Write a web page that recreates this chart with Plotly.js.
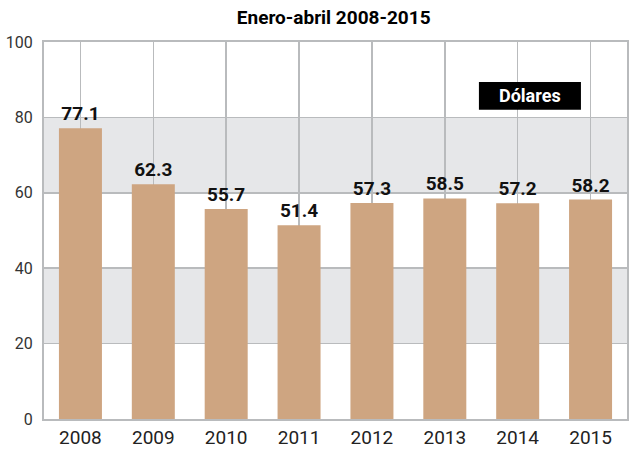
<!DOCTYPE html>
<html><head><meta charset="utf-8">
<script src="https://cdn.plot.ly/plotly-3.0.1.min.js"></script>
<style>html,body{margin:0;padding:0;background:#fff}#chart{width:632px;height:450px}</style>
</head><body><div id="chart"></div>
<script>
const years = ["2008","2009","2010","2011","2012","2013","2014","2015"];
const values = [77.1, 62.3, 55.7, 51.4, 57.3, 58.5, 57.2, 58.2];
const valueLabels = ["77.1","62.3","55.7","51.4","57.3","58.5","57.2","58.2"];
const yTicks = [0, 20, 40, 60, 80, 100];
const bands = [[20, 40], [60, 80]];
const titleText = "Enero-abril 2008-2015";
const unitText = "Dólares";

const grid = "#b9bbbd";
const shapes = bands.map(b => ({type:"rect", xref:"paper", yref:"y", x0:0, x1:1, y0:b[0], y1:b[1],
  fillcolor:"#e6e7e9", line:{width:0}, layer:"below"}));
shapes.push({type:"rect", xref:"paper", yref:"paper", x0:0.746, x1:0.921, y0:0.820, y1:0.894,
  fillcolor:"#000", line:{width:0}, layer:"above"});

const data = [{
  type:"bar", x:years, y:values, text:valueLabels, textposition:"outside",
  textfont:{family:"Roboto, sans-serif", size:19, color:"#111", weight:"bold"},
  marker:{color:"#cea581"}, width:0.59, cliponaxis:false, hoverinfo:"none"
}];

const layout = {
  width:632, height:450,
  margin:{l:44, r:5, t:42, b:31},
  paper_bgcolor:"#fff", plot_bgcolor:"rgba(0,0,0,0)",
  title:{text:"<b>"+titleText+"</b>", x:0.528, xanchor:"center", y:0.962, yanchor:"middle",
    font:{family:"Roboto, sans-serif", size:19, color:"#000"}},
  showlegend:false,
  xaxis:{tickson:"boundaries", showgrid:true, gridcolor:grid, gridwidth:1.5,
    showline:true, linecolor:grid, linewidth:2, mirror:true,
    ticks:"", tickfont:{family:"Roboto, sans-serif", size:19, color:"#222"},
    fixedrange:true},
  yaxis:{range:[0,100], tickvals:yTicks, showgrid:true, gridcolor:grid, gridwidth:1.5,
    showline:true, linecolor:grid, linewidth:2, mirror:true, zeroline:false,
    ticks:"outside", ticklen:6, tickcolor:"rgba(0,0,0,0)",
    tickfont:{family:"Roboto, sans-serif", size:16, color:"#333"},
    fixedrange:true},
  shapes:shapes,
  annotations:[{xref:"paper", yref:"paper", x:(0.746+0.921)/2, y:(0.820+0.894)/2,
    xanchor:"center", yanchor:"middle", showarrow:false, text:"<b>"+unitText+"</b>",
    font:{family:"Roboto, sans-serif", size:18, color:"#fff"}}]
};
Plotly.newPlot("chart", data, layout, {displayModeBar:false, staticPlot:true});
</script></body></html>
